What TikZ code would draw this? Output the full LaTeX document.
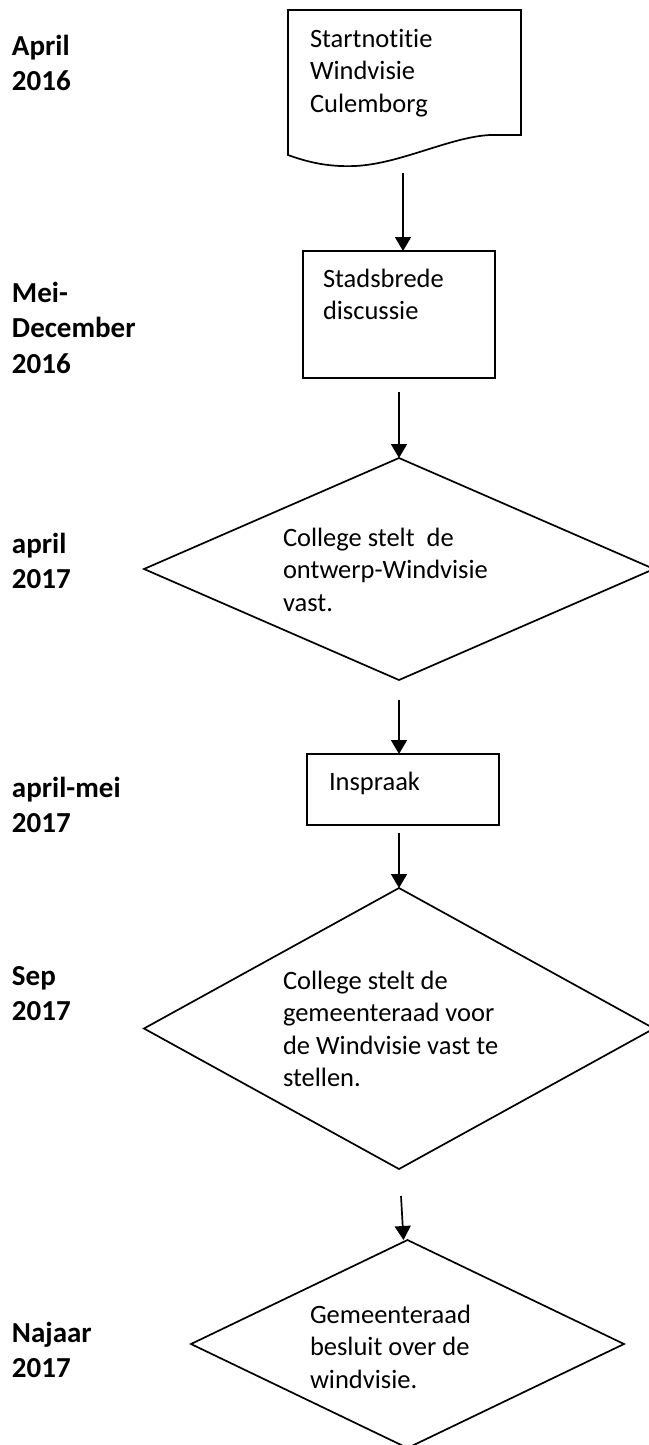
\documentclass[tikz,border=0pt]{standalone}
\usepackage{fontspec}
\setmainfont{Carlito}[Ligatures={NoCommon,NoRare,NoContextual},RawFeature={-calt;-rlig}]
\usetikzlibrary{arrows.meta,shapes.geometric,calc}
\newcommand\bodyfnt{\fontsize{26.5pt}{32.5pt}\selectfont}
\newcommand\labfnt{\fontsize{29pt}{35.5pt}\selectfont\bfseries}
\newcommand\bst{\rule{0pt}{22.75pt}\rule[-9.75pt]{0pt}{9.75pt}}
\newcommand\lst{\rule{0pt}{24.85pt}\rule[-10.65pt]{0pt}{10.65pt}}
\tikzset{
  shapeline/.style={draw=black, line width=1.7pt, inner sep=0pt, outer sep=0pt},
  boxshape/.style={shapeline, rectangle},
  dia/.style={shapeline, diamond},
  bodytext/.style={anchor=north west, inner sep=0pt, outer sep=0pt, align=left, font=\bodyfnt},
  datelabel/.style={anchor=north west, inner sep=0pt, outer sep=0pt, align=left, font=\labfnt},
  flow/.style={line width=1.7pt, -{Triangle[width=16pt,length=14pt]}},
}
\begin{document}
\begin{tikzpicture}[x=1pt,y=-1pt]
\useasboundingbox (0,0) rectangle (648,1445);
\fill[white] (0,0) rectangle (648,1445);

% date labels
\node[datelabel] (l1) at (12,30.2) {\lst April\\\lst 2016};
\node[datelabel] (l2) at (12,277.2) {\lst Mei-\\\lst December\\\lst 2016};
\node[datelabel] (l3) at (12,528.2) {\lst april\\\lst 2017};
\node[datelabel] (l4) at (12,772.2) {\lst april-mei\\\lst 2017};
\node[datelabel] (l5) at (12,960.2) {\lst Sep\\\lst 2017};
\node[datelabel] (l6) at (12,1317.2) {\lst Najaar\\\lst 2017};

% document shape
\node[inner sep=0pt, outer sep=0pt, minimum width=233pt, minimum height=145pt] (doc) at (404.5,82.5) {};
\draw[line width=1.7pt, line join=miter] (doc.south west) -- (doc.north west) -- (doc.north east) -- (521,135) -- (490,135)
  .. controls (450,137) and (400,164) .. (355,166)
  .. controls (330,167) and (310,163) .. (doc.south west) -- cycle;
\node[bodytext] (t1) at (310,24.25) {\bst Startno{}ti{}tie\\\bst Windvisie\\\bst Culemborg};

% Stadsbrede discussie
\node[boxshape, minimum width=192pt, minimum height=127pt] (stad) at (399,314.5) {};
\node[bodytext] (t2) at (323,264.25) {\bst Stadsbrede\\\bst discussie};

% diamond 1
\node[dia, minimum width=510pt, minimum height=222pt] (d1) at (399,569) {};
\node[bodytext] (t3) at (283,523.25) {\bst College stelt\ \ de\\\bst ontwerp-Windvisie\\\bst vast.};

% Inspraak
\node[boxshape, minimum width=192pt, minimum height=71pt] (insp) at (403,789.5) {};
\node[bodytext] (t4) at (329,767.25) {\bst Inspraak};

% diamond 2
\node[dia, minimum width=510pt, minimum height=281pt] (d2) at (399,1028.5) {};
\node[bodytext] (t5) at (283,966.25) {\bst College stelt de\\\bst gemeenteraad voor\\\bst de Windvisie vast te\\\bst stellen.};

% diamond 3
\node[dia, minimum width=433pt, minimum height=208pt] (d3) at (407.5,1344) {};
\node[bodytext] (t6) at (310,1300.25) {\bst Gemeenteraad\\\bst besluit over de\\\bst windvisie.};

% connectors
\coordinate (a1) at (403,173);
\coordinate (a2) at (399,392);
\coordinate (a3) at (399,700);
\coordinate (a4) at (399,833);
\coordinate (a5) at (401,1196);
\draw[flow] (a1) -- (a1 |- stad.north);
\draw[flow] (a2) -- (d1.north);
\draw[flow] (a3) -- (a3 |- insp.north);
\draw[flow] (a4) -- (d2.north);
\draw[flow] (a5) -- ($(d3.north)+(-4,0)$);
\end{tikzpicture}
\end{document}
